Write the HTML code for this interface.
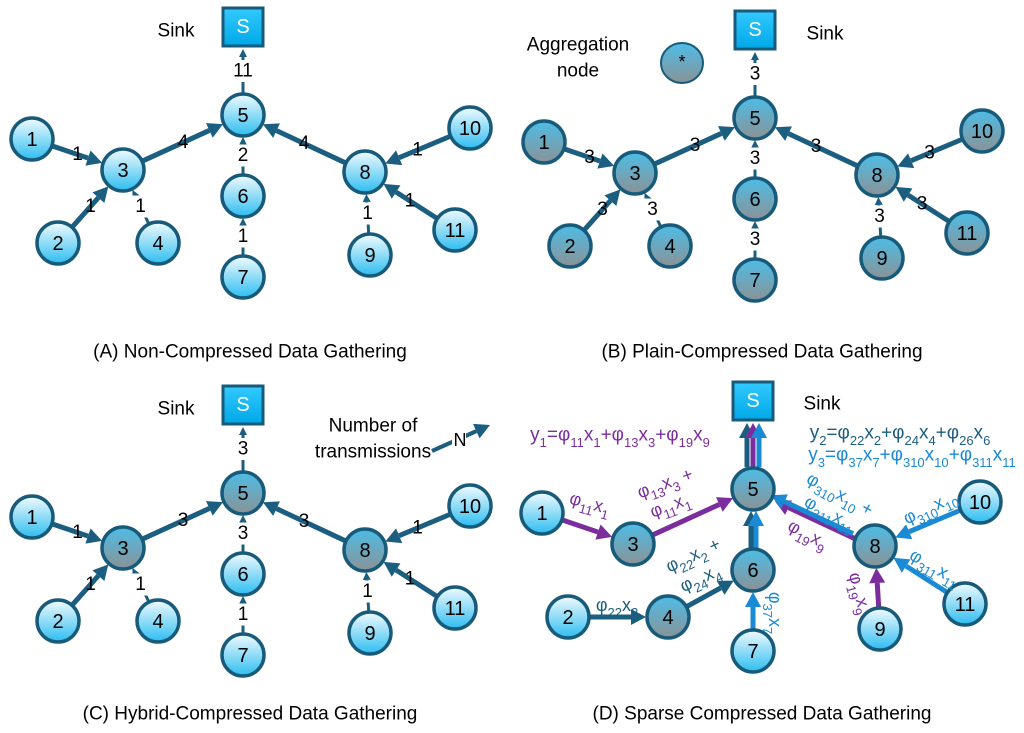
<!DOCTYPE html>
<html><head><meta charset="utf-8"><style>
html,body{margin:0;padding:0;background:#fff;}
svg{display:block;font-family:"Liberation Sans","DejaVu Sans",sans-serif;}
</style></head><body>
<svg id="s" width="1024" height="733" viewBox="0 0 1024 733" xmlns="http://www.w3.org/2000/svg">
<defs>
<linearGradient id="gl" x1="0" y1="0" x2="0" y2="1"><stop offset="0" stop-color="#f2fbff"/><stop offset="1" stop-color="#2dbdf0"/></linearGradient>
<linearGradient id="gd" x1="0" y1="0" x2="0" y2="1"><stop offset="0" stop-color="#4dbde6"/><stop offset="1" stop-color="#8a9296"/></linearGradient>
<linearGradient id="gs" x1="0" y1="0" x2="0" y2="1"><stop offset="0" stop-color="#33c9ff"/><stop offset="1" stop-color="#00a8e6"/></linearGradient>
</defs>
</svg>
<script>
var S=document.getElementById('s'),out='';
var P={S:[243,27],1:[32,139],3:[123,170],5:[243,115],6:[243,196],7:[243,277],2:[58,243],4:[158,243],8:[365,172],10:[470,128],11:[455,230],9:[370,255]};
var C='#1b5e80';
function pt(k,o){return [P[k][0]+o[0],P[k][1]+o[1]];}
function arrow(a,b,col,w,ra,rb,thin){
 var dx=b[0]-a[0],dy=b[1]-a[1],L=Math.hypot(dx,dy),ux=dx/L,uy=dy/L;
 var x1=a[0]+ux*ra,y1=a[1]+uy*ra,x2=b[0]-ux*rb,y2=b[1]-uy*rb;
 var h=thin?8:15,hw=thin?4:8;
 var bx=x2-ux*h,by=y2-uy*h;
 out+='<line x1="'+x1+'" y1="'+y1+'" x2="'+bx+'" y2="'+by+'" stroke="'+col+'" stroke-width="'+w+'"/>';
 out+='<polygon points="'+x2+','+y2+' '+(bx-uy*hw)+','+(by+ux*hw)+' '+(bx+uy*hw)+','+(by-ux*hw)+'" fill="'+col+'"/>';
}
function label(x,y,t,size,col){out+='<text x="'+x+'" y="'+y+'" font-size="'+(size||19)+'" fill="'+(col||'#000')+'" text-anchor="middle" dominant-baseline="central">'+t+'</text>';}
function edgeLab(a,b,o,t,thin){
 var A=pt(a,o),B=pt(b,o);var rb=22;
 var mx=(A[0]+B[0])/2,my=(A[1]+B[1])/2;
 if(thin){
  arrow(A,B,C,3,22,rb,true);
  out+='<rect x="'+(mx-10)+'" y="'+(my-11)+'" width="20" height="22" fill="#fff"/>';
  label(mx,my,t);
 } else {
  arrow(A,B,C,5,22,rb,false);
  label(mx,my,t);
 }
}
function node(k,o,dark){var p=pt(k,o);
 out+='<circle cx="'+p[0]+'" cy="'+p[1]+'" r="21" fill="url(#'+(dark?'gd':'gl')+')" stroke="#175a7a" stroke-width="3.5"/>';
 label(p[0],p[1]+1,k,20);}
function sink(o){var p=pt('S',o);
 out+='<rect x="'+(p[0]-20)+'" y="'+(p[1]-19)+'" width="40" height="38" fill="url(#gs)" stroke="#175a7a" stroke-width="3"/>';
 label(p[0],p[1],'S',20,'#fff');}
function panel(o,labs,darkSet,sinkLeft){
 var E=[['1','3'],['2','3'],['4','3'],['3','5'],['6','5'],['7','6'],['5','S'],['8','5'],['10','8'],['11','8'],['9','8']];
 var thin={'4':1,'6':1,'7':1,'5':1,'9':1};
 E.forEach(function(e,i){edgeLab(e[0],e[1],o,labs[i],thin[e[0]]);});
 sink(o);
 for(var k in P){if(k!='S')node(k,o,darkSet.indexOf(k)>=0);}
 var p=pt('S',o);label(sinkLeft?p[0]-67:p[0]+70,p[1]+4,'Sink',19);
}
panel([0,0],['1','1','1','4','2','1','11','4','1','1','1'],[],true);
panel([512,3],['3','3','3','3','3','3','3','3','3','3','3'],['1','2','3','4','5','6','7','8','9','10','11'],false);
panel([0,378],['1','1','1','3','3','1','3','3','1','1','1'],['3','5','8'],true);
label(250,352,'(A) Non-Compressed Data Gathering',19);
label(762,352,'(B) Plain-Compressed Data Gathering',19);
label(250,714,'(C) Hybrid-Compressed Data Gathering',19);
label(762,714,'(D) Sparse Compressed Data Gathering',19);
label(578,45,'Aggregation',19);label(578,71,'node',19);
out+='<ellipse cx="682" cy="63" rx="21" ry="20" fill="url(#gd)" stroke="#175a7a" stroke-width="2"/>';label(682,62,'*',18);
label(373,426,'Number of',19);label(373,452,'transmissions',19);
arrow([432,451],[490,425],C,4,0,0,false);
out+='<rect x="452" y="430" width="14" height="20" fill="#fff"/>';label(460,440,'N',18);
var o=[510,374],PU='#7b2d9e',B1='#1b5e80',B2='#1a8ad4';
function A(a,b,col,dx,dy){var p=pt(a,o),q=pt(b,o);p=[p[0]+(dx||0),p[1]+(dy||0)];q=[q[0]+(dx||0),q[1]+(dy||0)];arrow(p,q,col,5,22,22,false);}
A('1','3',PU);A('3','5',PU);A('2','4',B1);A('4','6',B1);A('7','6',B2);A('6','5',B1,-2,0);A('6','5',B2,3,0);
A('9','8',PU);A('10','8',B2);A('11','8',B2);A('8','5',PU,2,3);A('8','5',B2,-2,-3);
A('5','S',B1,-6,0);A('5','S',PU,0,0);A('5','S',B2,6,0);
sink(o);
['1','2','7','9','10','11'].forEach(function(k){node(k,o,false)});['3','4','5','6','8'].forEach(function(k){node(k,o,true)});
label(822,404,'Sink',19);
function T(x,y,html,col,rot,fs){out+='<text x="'+x+'" y="'+y+'" font-size="'+(fs||18)+'" fill="'+col+'" text-anchor="middle" dominant-baseline="central"'+(rot?' transform="rotate('+rot+' '+x+' '+y+')"':'')+'>'+html+'</text>';}
var sub=function(s){return '<tspan font-size="13" baseline-shift="sub">'+s+'</tspan>';};
T(620,435,'y'+sub('1')+'=φ'+sub('11')+'x'+sub('1')+'+φ'+sub('13')+'x'+sub('3')+'+φ'+sub('19')+'x'+sub('9'),PU,0,19);
T(900,433,'y'+sub('2')+'=φ'+sub('22')+'x'+sub('2')+'+φ'+sub('24')+'x'+sub('4')+'+φ'+sub('26')+'x'+sub('6'),B1,0,19);
T(912,455,'y'+sub('3')+'=φ'+sub('37')+'x'+sub('7')+'+φ'+sub('310')+'x'+sub('10')+'+φ'+sub('311')+'x'+sub('11'),B2,0,19);
T(590,503,'φ'+sub('11')+'x'+sub('1'),PU,15);
T(665,483,'φ'+sub('13')+'x'+sub('3')+' +',PU,-20);
T(670,505,'φ'+sub('11')+'x'+sub('1'),PU,-20);
T(693,555,'φ'+sub('22')+'x'+sub('2')+' +',B1,-25);
T(700,578,'φ'+sub('24')+'x'+sub('4'),B1,-25);
T(617,605,'φ'+sub('22')+'x'+sub('2'),B1);
T(775,613,'φ'+sub('37')+'x'+sub('7'),B2,90);
T(840,494,'φ'+sub('310')+'x'+sub('10')+' +',B2,28);
T(830,513,'φ'+sub('311')+'x'+sub('11'),B2,28);
T(808,534,'φ'+sub('19')+'x'+sub('9'),PU,28);
T(930,507,'φ'+sub('310')+'x'+sub('10'),B2,-25);
T(935,567,'φ'+sub('311')+'x'+sub('11'),B2,30);
T(860,593,'φ'+sub('19')+'x'+sub('9'),PU,75);
S.insertAdjacentHTML('beforeend',out);
</script>
</body></html>
